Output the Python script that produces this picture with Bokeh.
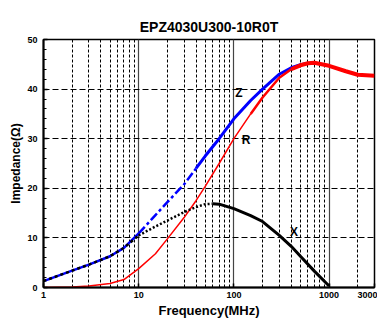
import numpy as np
from bokeh.plotting import figure
from bokeh.models import FixedTicker, Grid, Label, Range1d
from bokeh.embed import file_html
from bokeh.resources import INLINE

title = "EPZ4030U300-10R0T"
x_ticks = [1, 10, 100, 1000, 3000]
x_minor_grid = [2, 3, 4, 5, 6, 7, 8, 9, 20, 30, 40, 50, 60, 70, 80, 90,
                200, 300, 400, 500, 600, 700, 800, 900, 2000]
x_decade_grid = [10, 100, 1000]
y_ticks = [0, 10, 20, 30, 40, 50]

freq_z = [1, 2, 3, 5, 7, 10, 15, 20, 30, 40, 50, 70, 100, 150, 200, 300, 400, 500, 600]
z_vals = [1.3, 3.4, 4.6, 6.3, 8.0, 10.9, 14.6, 17.2, 20.8, 24.0, 26.5, 30.0, 34.0, 37.7, 40.0, 43.0, 44.3, 44.9, 45.2]

freq_r = [1, 2, 3, 5, 7, 10, 15, 20, 30, 40, 50, 70, 100, 150, 200, 300, 400, 500, 600, 700, 1000, 1500, 2000, 3000]
r_vals = [0.0, 0.1, 0.3, 0.8, 1.6, 3.8, 6.8, 9.8, 14.1, 17.5, 20.4, 25.0, 30.0, 35.0, 38.3, 42.3, 44.0, 44.8, 45.2, 45.3, 44.7, 43.6, 42.9, 42.7]

freq_x = [1, 2, 3, 5, 7, 10, 15, 20, 30, 40, 50, 60, 70, 100, 150, 200, 300, 400, 500, 700, 1000]
x_vals = [1.3, 3.4, 4.6, 6.3, 8.0, 10.5, 12.3, 13.5, 15.2, 16.2, 16.8, 16.9, 16.8, 15.9, 14.5, 13.3, 10.5, 8.3, 6.3, 3.3, 0.3]

fz, zv = np.array(freq_z, float), np.array(z_vals)
fr, rv = np.array(freq_r, float), np.array(r_vals)
fx, xv = np.array(freq_x, float), np.array(x_vals)

p = figure(frame_width=331, frame_height=248, x_axis_type="log", output_backend="svg",
           toolbar_location=None, x_range=Range1d(1, 3000), y_range=Range1d(0, 50),
           min_border_left=43, min_border_right=3, min_border_top=39, min_border_bottom=24)
p.background_fill_color = "white"
p.border_fill_color = "white"
p.outline_line_color = "black"
p.outline_line_width = 1.5

p.title.text = title
p.title.align = "center"
p.title.offset = -10
p.title.text_font = "Liberation Sans"
p.title.text_font_size = "14px"
p.title.text_font_style = "bold"
p.title.text_color = "black"

# grids
p.xgrid.ticker = FixedTicker(ticks=x_decade_grid)
p.xgrid.grid_line_color = "#444444"
p.xgrid.grid_line_width = 1.2
p.ygrid.ticker = FixedTicker(ticks=[10, 20, 30, 40])
p.ygrid.grid_line_color = "black"
p.ygrid.grid_line_dash = "6 3"
p.ygrid.grid_line_width = 1
minor = Grid(dimension=0, ticker=FixedTicker(ticks=x_minor_grid),
             grid_line_color="black", grid_line_dash="3 2", grid_line_width=1)
p.add_layout(minor)

# axes
xa = p.xaxis[0]
xa.ticker = FixedTicker(ticks=x_ticks)
xa.major_label_overrides = {1: "1", 10: "10", 100: "100", 1000: "1000", 3000: "3000"}
xa.axis_label = "Frequency(MHz)"
ya = p.yaxis[0]
ya.ticker = FixedTicker(ticks=y_ticks, minor_ticks=list(range(0, 51, 2)))
ya.axis_label = "Impedance(Ω)"
for ax in (xa, ya):
    ax.axis_line_width = 2
    ax.axis_line_color = "black"
    ax.major_tick_in = 4
    ax.major_tick_out = 0
    ax.minor_tick_in = 3
    ax.minor_tick_out = 0
    ax.major_tick_line_width = 1.5
    ax.major_label_text_font = "Liberation Sans"
    ax.major_label_text_font_style = "bold"
    ax.major_label_text_font_size = "9px"
    ax.major_label_text_color = "black"
    ax.axis_label_text_font = "Liberation Sans"
    ax.axis_label_text_font_style = "bold"
    ax.axis_label_text_color = "black"
xa.axis_label_text_font_size = "13px"
xa.axis_label_standoff = 2
xa.major_label_standoff = 4
ya.axis_label_text_font_size = "12px"
ya.axis_label_standoff = 1
ya.major_label_standoff = 6

# Z curve
m1 = fz <= 10
m2 = (fz >= 10) & (fz <= 40)
m3 = fz >= 40
p.line(fz[m1], zv[m1], line_color="blue", line_width=2.5)
p.line(fz[m2], zv[m2], line_color="blue", line_width=2.5, line_dash="9 3 3 3")
p.line(fz[m3], zv[m3], line_color="blue", line_width=3)

# R curve
r1 = fr <= 150
r2 = (fr >= 150) & (fr <= 400)
r3 = fr >= 400
p.line(fr[r1], rv[r1], line_color="red", line_width=1.5)
p.line(fr[r2], rv[r2], line_color="red", line_width=2.5)
p.line(fr[r3], rv[r3], line_color="red", line_width=4)

# X curve
x1 = fx <= 10
x2 = (fx >= 10) & (fx <= 60)
x3 = fx >= 60
p.line(fx[x1], xv[x1], line_color="black", line_width=2.5, line_dash="3 3")
p.line(fx[x2], xv[x2], line_color="black", line_width=2.5, line_dash="2 2")
p.line(fx[x3], xv[x3], line_color="black", line_width=3)

for txt, fx_, fy_ in [("Z", 113, 39.3), ("R", 134, 29.8), ("X", 428, 11.1)]:
    p.add_layout(Label(x=fx_, y=fy_, text=txt, text_font="Liberation Sans",
                       text_font_style="bold", text_font_size="12px",
                       text_align="center", text_baseline="middle", text_color="black"))

open("out.html", "w").write(file_html(p, INLINE))
